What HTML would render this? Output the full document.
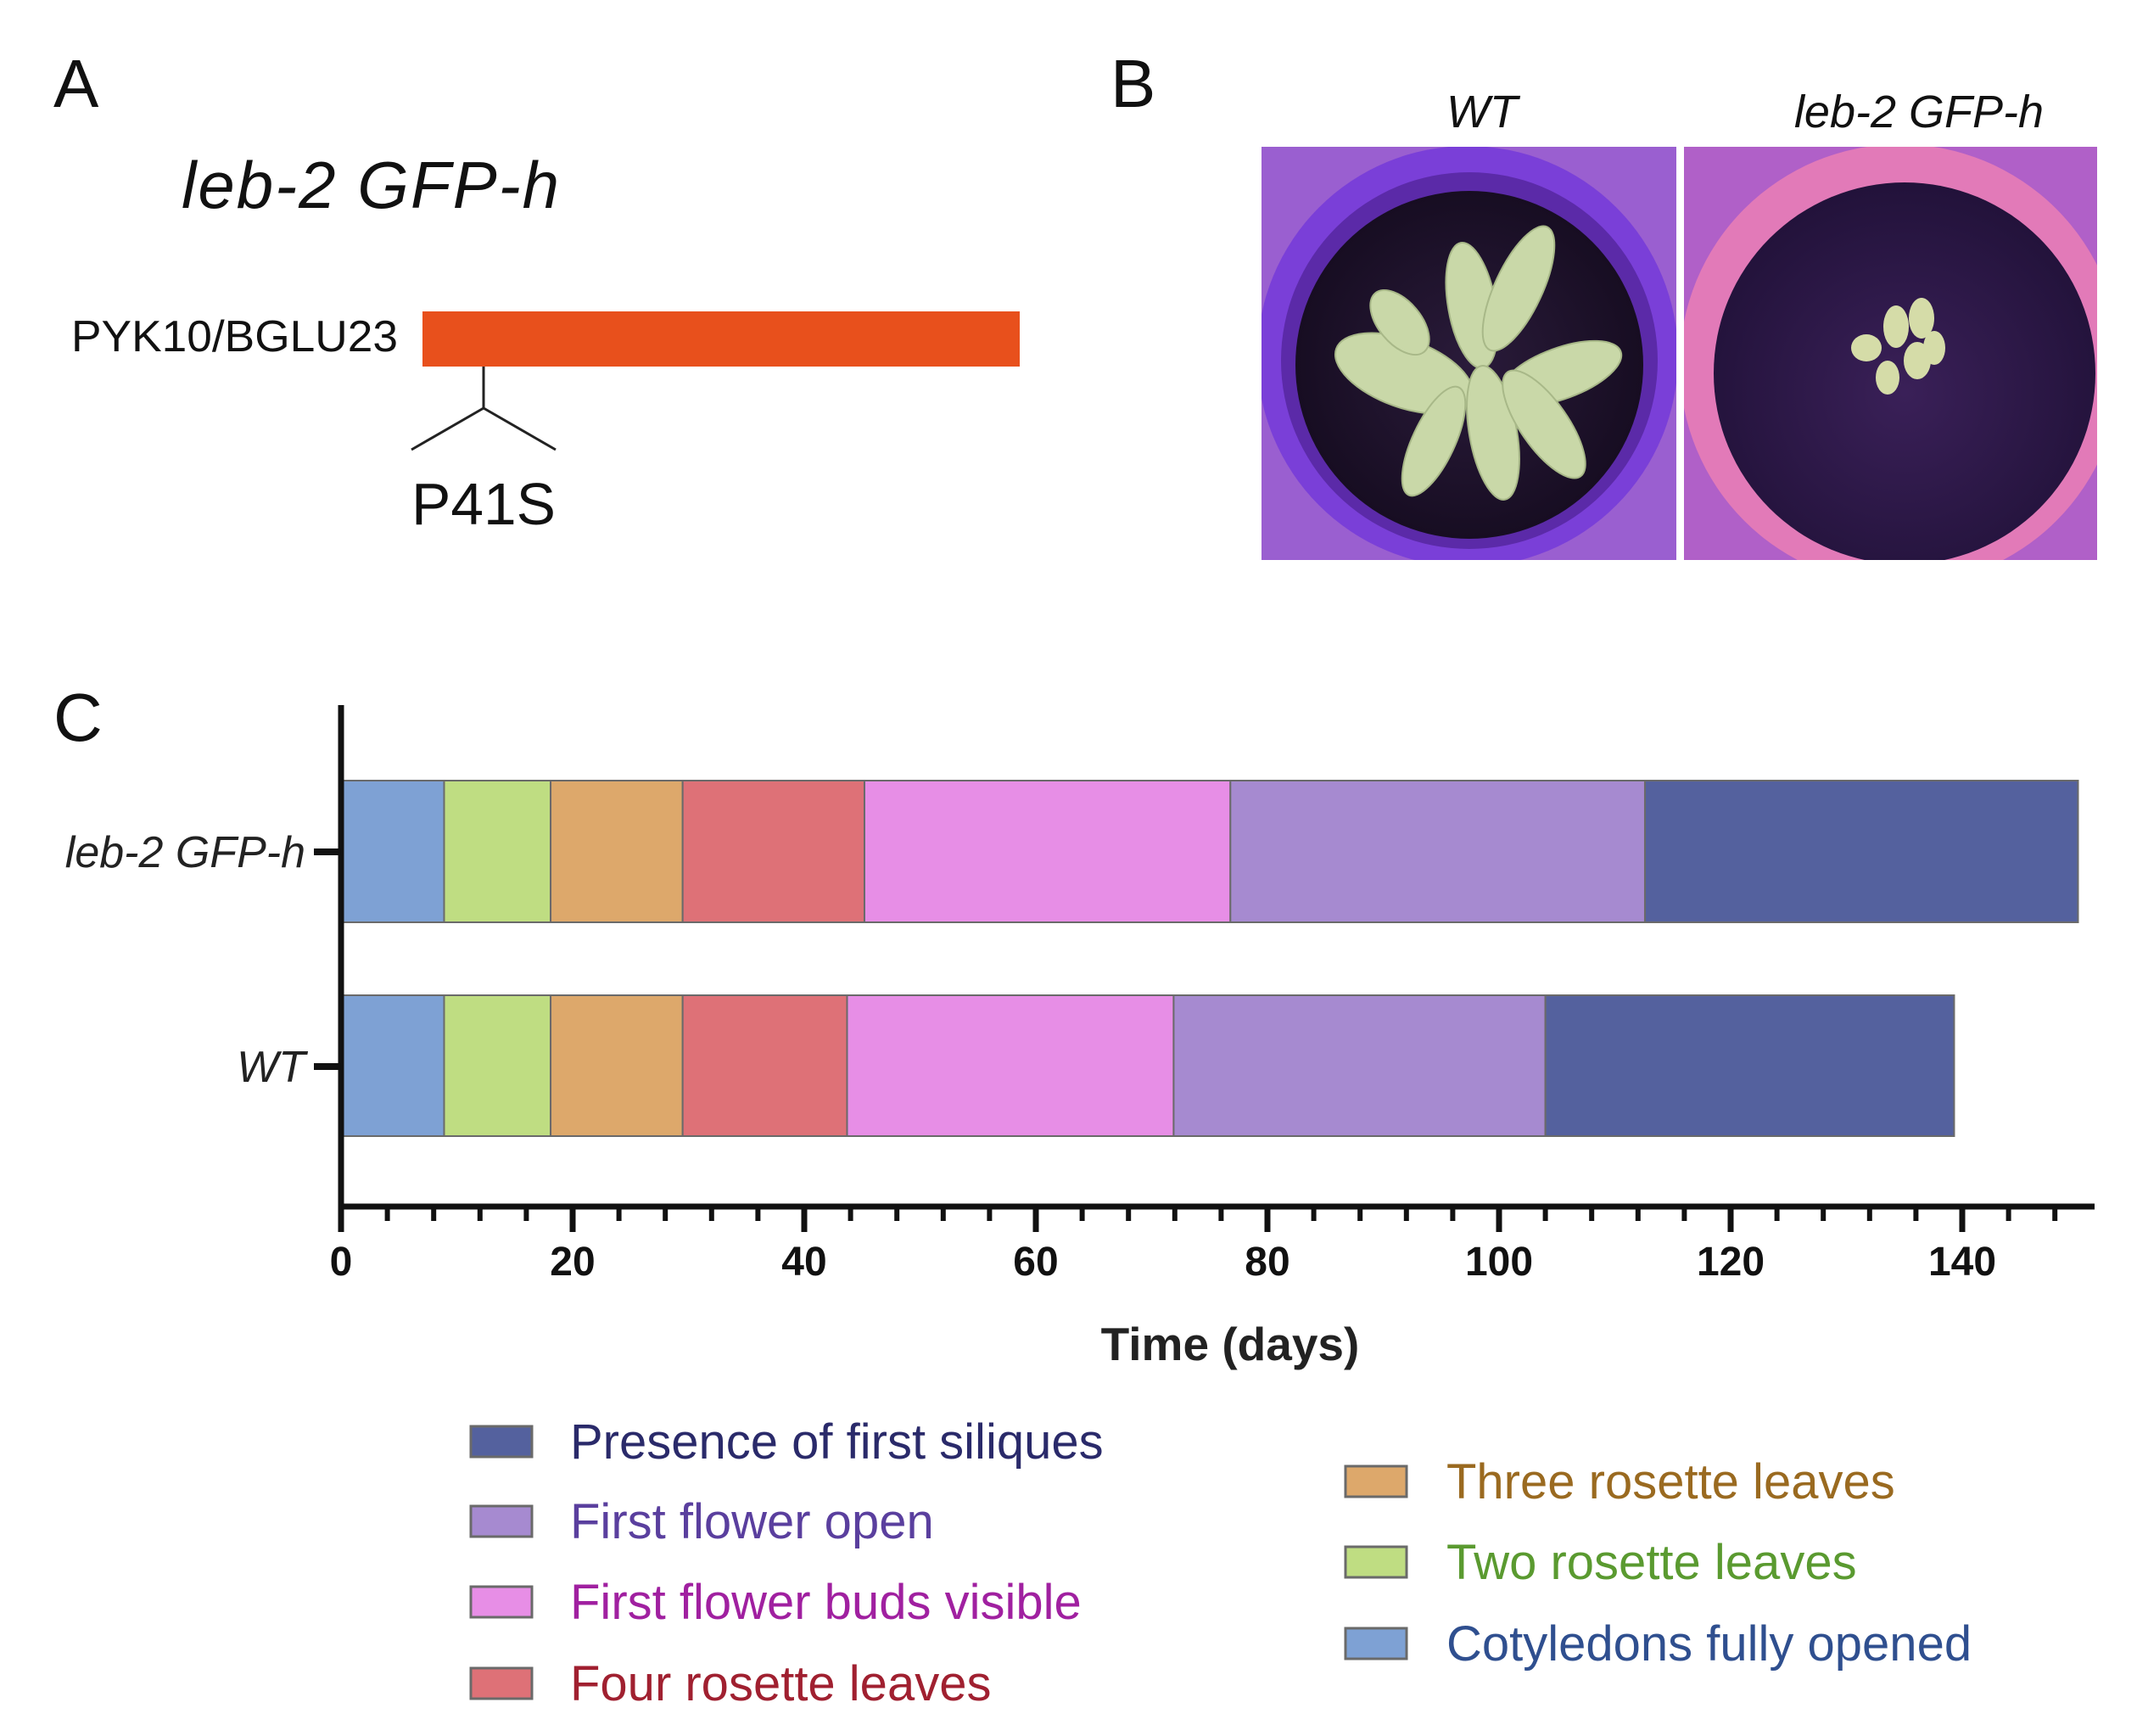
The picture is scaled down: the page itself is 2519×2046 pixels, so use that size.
<!DOCTYPE html>
<html><head><meta charset="utf-8"><style>
html,body{margin:0;padding:0;background:#fff;}
svg{display:block;font-family:"Liberation Sans",sans-serif;}
</style></head><body>
<svg id="fig" width="2519" height="2046" viewBox="0 0 2519 2046" xmlns="http://www.w3.org/2000/svg">
<defs>
<radialGradient id="soil1" cx="50%" cy="50%" r="50%"><stop offset="0" stop-color="#2a1b3a"/><stop offset="1" stop-color="#170d22"/></radialGradient>
<radialGradient id="soil2" cx="50%" cy="55%" r="55%"><stop offset="0" stop-color="#3a2058"/><stop offset="1" stop-color="#22123a"/></radialGradient>
<clipPath id="clip1"><rect x="1487" y="173" width="489" height="487"/></clipPath>
<clipPath id="clip2"><rect x="1985" y="173" width="487" height="487"/></clipPath>
</defs>
<!-- Panel A -->
<text x="63" y="126" font-size="80" fill="#111">A</text>
<text x="214" y="245" font-size="78" font-style="italic" fill="#111" textLength="445">leb-2 GFP-h</text>
<text x="84" y="414" font-size="52" fill="#111" textLength="385" lengthAdjust="spacingAndGlyphs">PYK10/BGLU23</text>
<rect x="498" y="367" width="704" height="65" fill="#e8501c"/>
<g stroke="#222" stroke-width="3" fill="none">
<line x1="570" y1="432" x2="570" y2="481"/><line x1="570" y1="481" x2="485" y2="530"/><line x1="570" y1="481" x2="655" y2="530"/>
</g>
<text x="570" y="618" font-size="70" fill="#111" text-anchor="middle" textLength="170" lengthAdjust="spacingAndGlyphs">P41S</text>
<!-- Panel B -->
<text x="1309" y="126" font-size="80" fill="#111">B</text>
<text x="1747" y="150" font-size="54" font-style="italic" fill="#111" text-anchor="middle">WT</text>
<text x="2262" y="150" font-size="54" font-style="italic" fill="#111" text-anchor="middle">leb-2 GFP-h</text>
<g clip-path="url(#clip1)">
<rect x="1487" y="173" width="489" height="487" fill="#9a5fd0"/>
<circle cx="1730" cy="420" r="248" fill="#7a3fd8"/>
<circle cx="1732" cy="425" r="222" fill="#5b2aa8"/>
<circle cx="1732" cy="430" r="205" fill="url(#soil1)"/>
<g fill="#c9d8a8" stroke="#a8b888" stroke-width="2">
<ellipse cx="1735" cy="360" rx="28" ry="75" transform="rotate(-10 1735 360)"/>
<ellipse cx="1790" cy="340" rx="28" ry="80" transform="rotate(25 1790 340)"/>
<ellipse cx="1655" cy="440" rx="40" ry="85" transform="rotate(-70 1655 440)"/>
<ellipse cx="1840" cy="440" rx="30" ry="75" transform="rotate(70 1840 440)"/>
<ellipse cx="1760" cy="510" rx="28" ry="80" transform="rotate(-10 1760 510)"/>
<ellipse cx="1690" cy="520" rx="25" ry="70" transform="rotate(25 1690 520)"/>
<ellipse cx="1820" cy="500" rx="28" ry="75" transform="rotate(-35 1820 500)"/>
<ellipse cx="1650" cy="380" rx="25" ry="45" transform="rotate(-40 1650 380)"/>
</g>
</g>
<g clip-path="url(#clip2)">
<rect x="1985" y="173" width="487" height="487" fill="#b060c8"/>
<circle cx="2240" cy="430" r="260" fill="#e27ab8"/>
<circle cx="2245" cy="440" r="225" fill="url(#soil2)"/>
<g fill="#d5dca8">
<ellipse cx="2235" cy="385" rx="15" ry="25"/><ellipse cx="2265" cy="375" rx="15" ry="24"/>
<ellipse cx="2200" cy="410" rx="18" ry="16"/><ellipse cx="2260" cy="425" rx="16" ry="22"/>
<ellipse cx="2225" cy="445" rx="14" ry="20"/><ellipse cx="2280" cy="410" rx="13" ry="20"/>
</g>
</g>
<!-- Panel C -->
<text x="63" y="873" font-size="80" fill="#111">C</text>
<g id="chart"></g>
</svg>
<script>
const categories = ["leb-2 GFP-h", "WT"];
const stages = ["Cotyledons fully opened","Two rosette leaves","Three rosette leaves","Four rosette leaves","First flower buds visible","First flower open","Presence of first siliques"];
const lebEnds = [8.9, 18.1, 29.5, 45.2, 76.8, 112.6, 150];
const wtEnds = [8.9, 18.1, 29.5, 43.7, 71.9, 104.0, 139.3];
const xTicks = [0, 20, 40, 60, 80, 100, 120, 140];
const stageColors = ["#7ea1d4","#bfdd82","#dda86b","#de7177","#e78ee6","#a68ad0","#54619e"];
const legendTextColors = ["#2f4f8f","#5a9a30","#9a6a20","#a02030","#a020a0","#5a3f9e","#2a2a6a"];

const NS = "http://www.w3.org/2000/svg";
const g = document.getElementById("chart");
const X0 = 402, PX = 13.65;
const xs = v => X0 + v * PX;
const barY = [920, 1173], barH = [167, 166];
const catY = [1004, 1257];
function mk(tag, attrs, parent) {
  const e = document.createElementNS(NS, tag);
  for (const k in attrs) e.setAttribute(k, attrs[k]);
  (parent || g).appendChild(e);
  return e;
}
[lebEnds, wtEnds].forEach((ends, ci) => {
  let prev = 0;
  ends.forEach((end, si) => {
    const r = mk("rect", {x: xs(prev), y: barY[ci], width: xs(end) - xs(prev), height: barH[ci], fill: stageColors[si], stroke: "#6a6a6a", "stroke-width": 2});
    
    
    prev = end;
  });
});
const ya = mk("line", {x1: X0, y1: 831, x2: X0, y2: 1425, stroke: "#111", "stroke-width": 7});


const xa = mk("line", {x1: X0 - 3, y1: 1422, x2: 2469, y2: 1422, stroke: "#111", "stroke-width": 7});


for (let v = 0; v <= 150; v += 4) {
  if (v % 20 === 0) continue;
  const t = mk("line", {x1: xs(v), y1: 1422, x2: xs(v), y2: 1439, stroke: "#111", "stroke-width": 6});
  
  
}
xTicks.forEach(v => {
  const t = mk("line", {x1: xs(v), y1: 1422, x2: xs(v), y2: 1452, stroke: "#111", "stroke-width": 7});
  
  
  const l = mk("text", {x: xs(v), y: 1503, "font-size": 48, "font-weight": "bold", "text-anchor": "middle", fill: "#111"});
  l.textContent = v;
  
  
});
categories.forEach((c, i) => {
  const t = mk("line", {x1: 370, y1: catY[i], x2: X0, y2: catY[i], stroke: "#111", "stroke-width": 8});
  
  
  const l = mk("text", {x: 360, y: catY[i] + 18, "font-size": 52, "font-style": "italic", "text-anchor": "end", fill: "#222"});
  l.textContent = c;
  
  
});
const title = mk("text", {x: 1450, y: 1603, "font-size": 55, "font-weight": "bold", "text-anchor": "middle", fill: "#222"});
title.textContent = "Time (days)";


const leftOrder = [6, 5, 4, 3], leftY = [1699, 1793, 1888, 1984];
const rightOrder = [2, 1, 0], rightY = [1746, 1841, 1937];
function legendEntry(si, sx, tx, cy) {
  const s = mk("rect", {x: sx, y: cy - 18, width: 72, height: 36, fill: stageColors[si], stroke: "#6a6a6a", "stroke-width": 3});
  
  
  const t = mk("text", {x: tx, y: cy + 20, "font-size": 58, fill: legendTextColors[si]});
  t.textContent = stages[si];
  
  
}
leftOrder.forEach((si, i) => legendEntry(si, 555, 672, leftY[i]));
rightOrder.forEach((si, i) => legendEntry(si, 1586, 1705, rightY[i]));
</script>
</body></html>
